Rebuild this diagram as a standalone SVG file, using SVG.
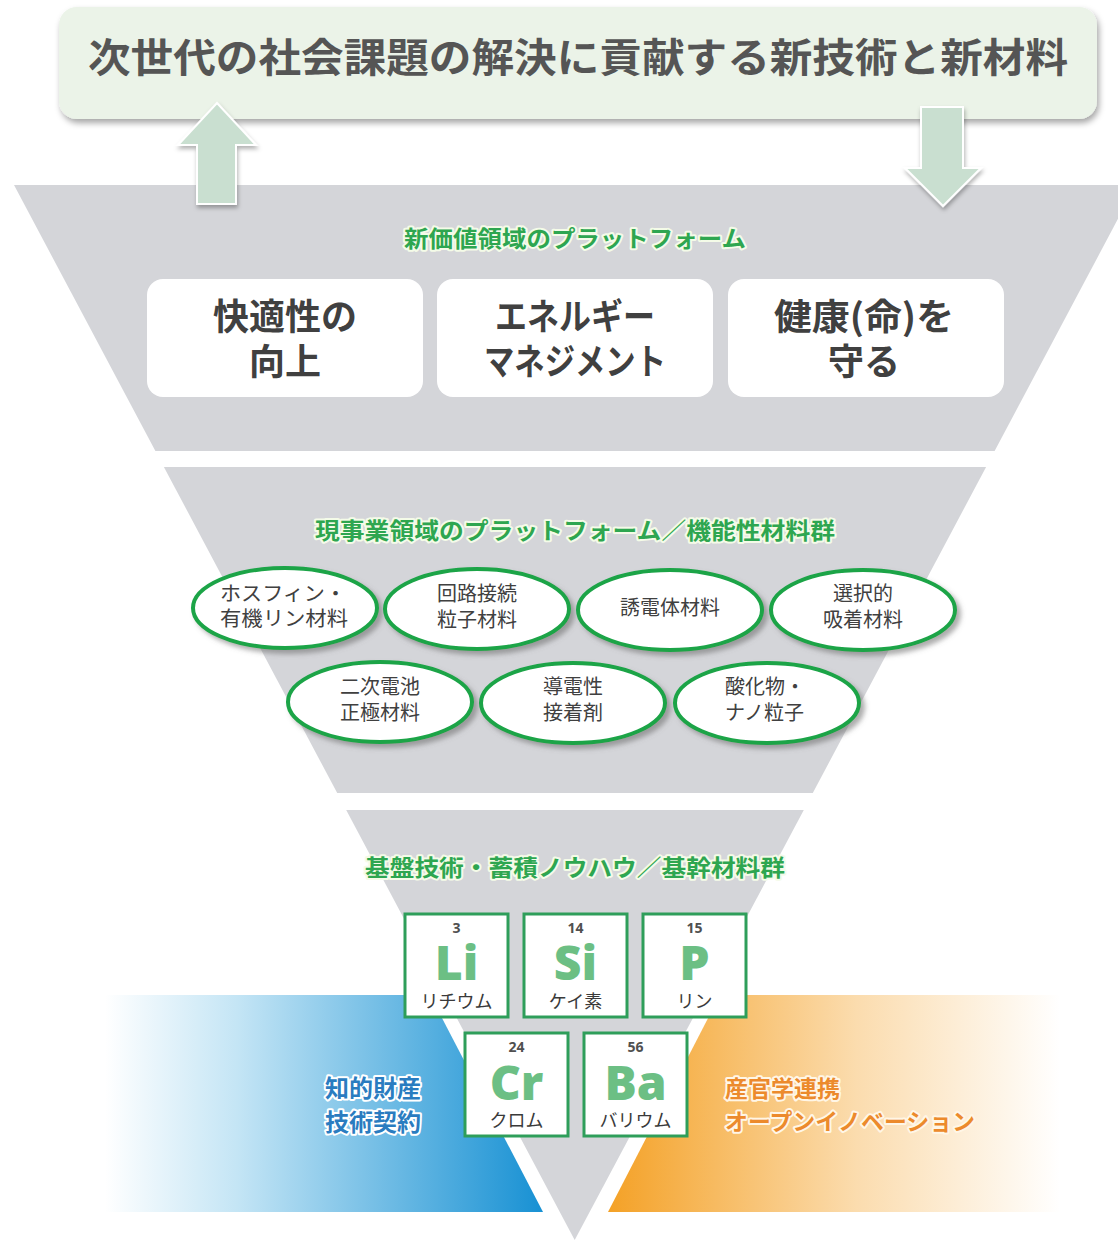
<svg xmlns="http://www.w3.org/2000/svg" width="1118" height="1241" viewBox="0 0 1118 1241">
<defs>
  <filter id="sh" x="-10%" y="-20%" width="120%" height="150%">
    <feDropShadow dx="2" dy="4" stdDeviation="3" flood-color="#000" flood-opacity="0.35"/>
  </filter>
  <filter id="ash" x="-30%" y="-20%" width="160%" height="140%">
    <feDropShadow dx="1" dy="3" stdDeviation="2" flood-color="#000" flood-opacity="0.3"/>
  </filter>
  <filter id="esh" x="-10%" y="-20%" width="125%" height="150%">
    <feDropShadow dx="4" dy="4" stdDeviation="2.5" flood-color="#6b6b6b" flood-opacity="0.55"/>
  </filter>
  <linearGradient id="blue" gradientUnits="userSpaceOnUse" x1="105" y1="0" x2="545" y2="0">
    <stop offset="0" stop-color="#ffffff"/>
    <stop offset="0.3" stop-color="#c4e5f5"/>
    <stop offset="1" stop-color="#1690d3"/>
  </linearGradient>
  <linearGradient id="orange" gradientUnits="userSpaceOnUse" x1="608" y1="0" x2="1060" y2="0">
    <stop offset="0" stop-color="#f4a126"/>
    <stop offset="0.55" stop-color="#fbdcae"/>
    <stop offset="1" stop-color="#ffffff"/>
  </linearGradient>
  <style>
    .jp{font-family:"Noto Sans CJK JP","Noto Sans CJK SC",sans-serif}
    .ttl{font-size:40px;font-weight:700;fill:#555555}
    .big{font-size:36px;font-weight:700;fill:#404040;text-anchor:middle}
    .gt{font-weight:700;fill:#2ea650;stroke:#f4fbe8;stroke-width:4px;paint-order:stroke;stroke-linejoin:round;text-anchor:middle}
    .funnel{fill:#d4d5d9}
    .ell{fill:#ffffff;stroke:#1aa447;stroke-width:4px}
    .et{font-size:20px;fill:#404040}
    .box{fill:#ffffff;stroke:#2e9e5a;stroke-width:3px}
    .num{font-family:"Open Sans","DejaVu Sans",sans-serif;font-size:14px;font-weight:700;fill:#505050;text-anchor:middle}
    .sym{font-family:"Open Sans","DejaVu Sans",sans-serif;font-size:48px;font-weight:800;fill:#6cbf84;text-anchor:middle}
    .nm{font-size:18px;fill:#3a3a3a;text-anchor:middle}
    .arrow{fill:#c9dfd0;stroke:#ffffff;stroke-width:2px}
  </style>
</defs>

<!-- background colored bands -->
<g id="bands">
  <polygon points="100,995 430,995 543,1212 100,1212" fill="url(#blue)"/>
  <polygon points="720,995 1070,995 1070,1212 608,1212" fill="url(#orange)"/>
</g>

<!-- funnel sections -->
<g id="funnel">
  <polygon class="funnel" points="14,185 1136,185 994.6,451 155.4,451"/>
  <polygon class="funnel" points="163.9,467 986.1,467 812.8,793 337.2,793"/>
  <polygon class="funnel" points="346.2,810 803.8,810 574.7,1240"/>
</g>

<!-- title banner -->
<g id="banner">
  <rect x="59" y="7" width="1038" height="112" rx="18" fill="#ebf3e8" filter="url(#sh)"/>
  <text class="jp ttl" x="88" y="72" textLength="980" lengthAdjust="spacingAndGlyphs">次世代の社会課題の解決に貢献する新技術と新材料</text>
</g>

<!-- connectors: arrows -->
<g id="connectors">
  <polygon class="arrow" filter="url(#ash)" points="217,103 256,145 236,145 236,204 197,204 197,145 178,145"/>
  <polygon class="arrow" filter="url(#ash)" points="921,107 963,107 963,168 981,168 943,206 905,168 921,168"/>
</g>

<!-- section 1 -->
<g id="sec1">
  <text class="jp gt" x="575" y="247" font-size="23" textLength="342" lengthAdjust="spacingAndGlyphs">新価値領域のプラットフォーム</text>
  <g id="box-comfort">
    <rect x="147" y="279" width="276" height="118" rx="16" fill="#ffffff"/>
    <text class="jp big" x="285" y="330">快適性の</text>
    <text class="jp big" x="285" y="375">向上</text>
  </g>
  <g id="box-energy">
    <rect x="437" y="279" width="276" height="118" rx="16" fill="#ffffff"/>
    <text class="jp big" x="575" y="330" textLength="160" lengthAdjust="spacingAndGlyphs">エネルギー</text>
    <text class="jp big" x="575" y="375" textLength="182" lengthAdjust="spacingAndGlyphs">マネジメント</text>
  </g>
  <g id="box-health">
    <rect x="728" y="279" width="276" height="118" rx="16" fill="#ffffff"/>
    <text class="jp big" x="864" y="330" textLength="180" lengthAdjust="spacingAndGlyphs">健康(命)を</text>
    <text class="jp big" x="864" y="375">守る</text>
  </g>
</g>

<!-- section 2 -->
<g id="sec2">
  <text class="jp gt" x="575" y="539" font-size="23" textLength="520" lengthAdjust="spacingAndGlyphs">現事業領域のプラットフォーム／機能性材料群</text>
  <g id="e1">
    <ellipse class="ell" cx="285" cy="608" rx="92" ry="40" filter="url(#esh)"/>
    <text class="jp et" x="220" y="601" textLength="126" lengthAdjust="spacingAndGlyphs">ホスフィン・</text>
    <text class="jp et" x="220" y="626" textLength="128" lengthAdjust="spacingAndGlyphs">有機リン材料</text>
  </g>
  <g id="e2">
    <ellipse class="ell" cx="477" cy="609" rx="92" ry="40" filter="url(#esh)"/>
    <text class="jp et" x="477" y="601" text-anchor="middle">回路接続</text>
    <text class="jp et" x="477" y="627" text-anchor="middle">粒子材料</text>
  </g>
  <g id="e3">
    <ellipse class="ell" cx="670" cy="610" rx="92" ry="40" filter="url(#esh)"/>
    <text class="jp et" x="670" y="615" text-anchor="middle">誘電体材料</text>
  </g>
  <g id="e4">
    <ellipse class="ell" cx="863" cy="610" rx="92" ry="40" filter="url(#esh)"/>
    <text class="jp et" x="863" y="601" text-anchor="middle">選択的</text>
    <text class="jp et" x="863" y="627" text-anchor="middle">吸着材料</text>
  </g>
  <g id="e5">
    <ellipse class="ell" cx="380" cy="702" rx="92" ry="40" filter="url(#esh)"/>
    <text class="jp et" x="380" y="694" text-anchor="middle">二次電池</text>
    <text class="jp et" x="380" y="720" text-anchor="middle">正極材料</text>
  </g>
  <g id="e6">
    <ellipse class="ell" cx="573" cy="703" rx="92" ry="40" filter="url(#esh)"/>
    <text class="jp et" x="573" y="694" text-anchor="middle">導電性</text>
    <text class="jp et" x="573" y="720" text-anchor="middle">接着剤</text>
  </g>
  <g id="e7">
    <ellipse class="ell" cx="767" cy="703" rx="92" ry="40" filter="url(#esh)"/>
    <text class="jp et" x="725" y="694">酸化物・</text>
    <text class="jp et" x="725" y="720">ナノ粒子</text>
  </g>
</g>

<!-- section 3 -->
<g id="sec3">
  <text class="jp gt" x="575" y="876" font-size="23" textLength="420" lengthAdjust="spacingAndGlyphs">基盤技術・蓄積ノウハウ／基幹材料群</text>
  <g id="el-li">
    <rect class="box" x="405" y="914" width="103" height="103"/>
    <text class="num" x="456.5" y="933">3</text>
    <text class="sym" x="456.5" y="980">Li</text>
    <text class="jp nm" x="456.5" y="1008">リチウム</text>
  </g>
  <g id="el-si">
    <rect class="box" x="524" y="914" width="103" height="103"/>
    <text class="num" x="575.5" y="933">14</text>
    <text class="sym" x="575.5" y="980">Si</text>
    <text class="jp nm" x="575.5" y="1008">ケイ素</text>
  </g>
  <g id="el-p">
    <rect class="box" x="643" y="914" width="103" height="103"/>
    <text class="num" x="694.5" y="933">15</text>
    <text class="sym" x="694.5" y="980">P</text>
    <text class="jp nm" x="694.5" y="1008">リン</text>
  </g>
  <g id="el-cr">
    <rect class="box" x="465" y="1033" width="103" height="103"/>
    <text class="num" x="516.5" y="1052">24</text>
    <text class="sym" x="516.5" y="1100">Cr</text>
    <text class="jp nm" x="516.5" y="1127">クロム</text>
  </g>
  <g id="el-ba">
    <rect class="box" x="584" y="1033" width="103" height="103"/>
    <text class="num" x="635.5" y="1052">56</text>
    <text class="sym" x="635.5" y="1100">Ba</text>
    <text class="jp nm" x="635.5" y="1127">バリウム</text>
  </g>
</g>

<!-- side labels -->
<g id="label-ip">
  <text class="jp" x="373" y="1097" font-size="24" font-weight="700" fill="#2a7cc0" stroke="#ffffff" stroke-width="4" paint-order="stroke" stroke-linejoin="round" text-anchor="middle">知的財産</text>
  <text class="jp" x="373" y="1131" font-size="24" font-weight="700" fill="#2a7cc0" stroke="#ffffff" stroke-width="4" paint-order="stroke" stroke-linejoin="round" text-anchor="middle">技術契約</text>
</g>
<g id="label-open">
  <text class="jp" x="725" y="1097" font-size="23" font-weight="700" fill="#ec8a2c" stroke="#fff6e6" stroke-width="4" paint-order="stroke" stroke-linejoin="round">産官学連携</text>
  <text class="jp" x="725" y="1130" font-size="23" font-weight="700" fill="#ec8a2c" stroke="#fff6e6" stroke-width="4" paint-order="stroke" stroke-linejoin="round" textLength="250" lengthAdjust="spacingAndGlyphs">オープンイノベーション</text>
</g>
</svg>
